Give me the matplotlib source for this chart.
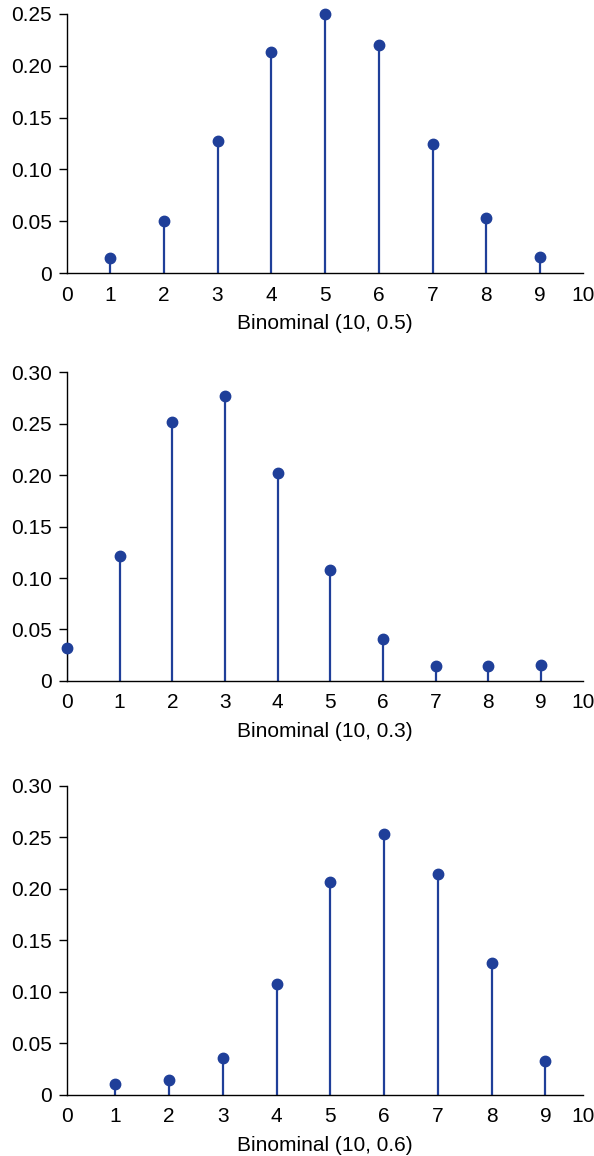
"""Trzy wykresy slupkowo-punktowe rozkladu dwumianowego (stem plots)."""

import matplotlib
matplotlib.use("Agg")
import matplotlib.pyplot as plt

plt.rcParams["font.family"] = ["Liberation Sans", "DejaVu Sans"]

# dane
k_05 = [1, 2, 3, 4, 5, 6, 7, 8, 9]
p_05 = [0.0145, 0.050, 0.127, 0.213, 0.250, 0.220, 0.125, 0.053, 0.0155]

k_03 = [0, 1, 2, 3, 4, 5, 6, 7, 8, 9]
p_03 = [0.032, 0.121, 0.251, 0.277, 0.202, 0.108, 0.041, 0.0145, 0.0145, 0.016]

k_06 = [1, 2, 3, 4, 5, 6, 7, 8, 9]
p_06 = [0.011, 0.0145, 0.036, 0.108, 0.207, 0.253, 0.215, 0.128, 0.033]

labels = ["Binominal (10, 0.5)", "Binominal (10, 0.3)", "Binominal (10, 0.6)"]
x_labels = ["0", "1", "2", "3", "4", "5", "6", "7", "8", "9", "10"]
y_ticks_a = [0, 0.05, 0.10, 0.15, 0.20, 0.25]
y_ticks_b = [0, 0.05, 0.10, 0.15, 0.20, 0.25, 0.30]

COLOR = "#1f3f99"

fig = plt.figure(figsize=(5.94, 11.56), dpi=100)

panels = [
    ([0.1128, 0.7638, 0.8687, 0.2241], k_05, p_05, y_ticks_a, (0.2, 9.8)),
    ([0.1128, 0.4109, 0.8687, 0.2673], k_03, p_03, y_ticks_b, (0.0, 9.8)),
    ([0.1128, 0.0528, 0.8687, 0.2673], k_06, p_06, y_ticks_b, (0.1, 9.7)),
]

for (rect, k, p, yt, xl), label in zip(panels, labels):
    ax = fig.add_axes(rect)
    markers, stems, base = ax.stem(k, p, linefmt="-", markerfmt="o", basefmt=" ")
    plt.setp(stems, color=COLOR, linewidth=1.6)
    plt.setp(markers, color=COLOR, markersize=7.5, clip_on=False, zorder=3)
    for s in ("top", "right"):
        ax.spines[s].set_visible(False)
    for s in ("left", "bottom"):
        ax.spines[s].set_linewidth(1.0)
    ax.set_xlim(*xl)
    ax.set_ylim(0, yt[-1])
    ax.set_xticks([xl[0]] + list(range(1, 10)) + [xl[1]])
    ax.set_xticklabels(x_labels)
    ax.set_yticks(yt)
    ax.set_yticklabels(["0"] + [f"{v:.2f}" for v in yt[1:]])
    ax.tick_params(axis="x", length=0, pad=9, labelsize=15)
    ax.tick_params(axis="y", length=6, width=1.0, pad=5, direction="out", labelsize=15)
    ax.set_xlabel(label, fontsize=15, labelpad=7)

fig.savefig("out.png", dpi=100)
